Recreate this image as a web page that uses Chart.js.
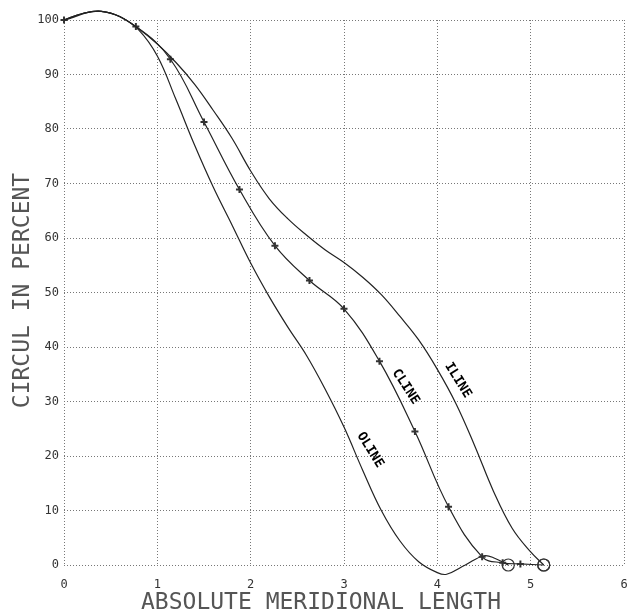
<!DOCTYPE html>
<html>
<head>
<meta charset="utf-8">
<script src="https://cdn.jsdelivr.net/npm/chart.js@4"></script>
<style>
  html, body { margin: 0; padding: 0; background: #fff; }
  #wrap { width: 632px; height: 613px; }
</style>
</head>
<body>
<div id="wrap"><canvas id="c" width="632" height="613"></canvas></div>
<script>
// Axis ticks
const xTicks = [0, 1, 2, 3, 4, 5, 6];
const yTicks = [0, 10, 20, 30, 40, 50, 60, 70, 80, 90, 100];

// Curve names
const seriesNames = ['ILINE', 'CLINE', 'OLINE'];

// ILINE: meridional length vs. circulation (%)
const ilineX = [0, 0.2, 0.4, 0.6, 0.8, 1.0, 1.2, 1.4, 1.6, 1.8, 2.0, 2.2, 2.4, 2.6, 2.8, 3.0, 3.2, 3.4, 3.6, 3.8, 4.0, 4.2, 4.4, 4.6, 4.8, 5.0, 5.14];
const ilineY = [100, 101.2, 101.6, 100.6, 98.4, 95.6, 92.2, 88.2, 83.4, 78.3, 72.3, 67.2, 63.5, 60.5, 57.8, 55.5, 52.8, 49.6, 45.6, 41.3, 35.9, 29.6, 21.9, 13.6, 6.8, 2.4, 0];

// CLINE: computed stations (marked points)
const clineX = [0, 0.4, 0.77, 1.14, 1.5, 1.88, 2.26, 2.63, 3.0, 3.38, 3.76, 4.12, 4.48, 4.7, 4.89, 5.14];
const clineY = [100, 101.6, 98.8, 92.8, 81.3, 68.9, 58.6, 52.2, 47.0, 37.4, 24.5, 10.7, 1.5, 0.4, 0.2, 0];

// OLINE
const olineX = [0, 0.2, 0.4, 0.6, 0.8, 1.0, 1.2, 1.4, 1.6, 1.8, 2.0, 2.2, 2.4, 2.6, 2.8, 3.0, 3.2, 3.4, 3.6, 3.8, 4.0, 4.1, 4.3, 4.5, 4.62, 4.76];
const olineY = [100, 101.2, 101.6, 100.6, 98.2, 93.4, 85.4, 77.0, 69.3, 62.4, 55.4, 49.2, 43.6, 38.4, 32.2, 25.3, 17.4, 10.0, 4.4, 0.6, -1.4, -1.7, 0.0, 1.7, 1.2, 0];

const toPoints = (xs, ys) => xs.map((x, i) => ({ x: x, y: ys[i] }));

const MONO = '"DejaVu Sans Mono", monospace';
const INK = '#222';

// Inline curve labels, anchored in data units, rotated along the curves
const curveTags = [
  { text: seriesNames[0], x: 4.22, y: 33.9, angle: 58 },
  { text: seriesNames[1], x: 3.66, y: 32.7, angle: 57 },
  { text: seriesNames[2], x: 3.28, y: 21.1, angle: 58 }
];

const annotate = {
  id: 'annotate',
  afterDatasetsDraw(chart) {
    const ctx = chart.ctx;
    const xs = chart.scales.x, ys = chart.scales.y;
    ctx.save();
    ctx.fillStyle = '#000';
    ctx.font = 'bold 13px ' + MONO;
    ctx.textAlign = 'center';
    ctx.textBaseline = 'middle';
    curveTags.forEach(t => {
      ctx.save();
      ctx.translate(xs.getPixelForValue(t.x), ys.getPixelForValue(t.y));
      ctx.rotate(t.angle * Math.PI / 180);
      ctx.fillText(t.text, 0, 0);
      ctx.restore();
    });
    ctx.restore();
  },
  afterDraw(chart) {
    const ctx = chart.ctx;
    const a = chart.chartArea;
    ctx.save();
    ctx.fillStyle = '#555';
    ctx.font = '23px ' + MONO;
    ctx.textAlign = 'center';
    ctx.textBaseline = 'middle';
    ctx.fillText('ABSOLUTE MERIDIONAL LENGTH', a.left + (a.right - a.left) * 0.459, 603);
    ctx.translate(23, (a.top + a.bottom) / 2 - 2);
    ctx.rotate(-Math.PI / 2);
    ctx.fillText('CIRCUL IN PERCENT', 0, 0);
    ctx.restore();
  }
};

const endCircle = (n, other) => ctx => (ctx.dataIndex === n - 1 ? 'circle' : other);

const datasets = [
  {
    label: seriesNames[0],
    data: toPoints(ilineX, ilineY),
    pointStyle: endCircle(ilineX.length, 'circle'),
    pointRadius: ctx => (ctx.dataIndex === ilineX.length - 1 ? 6 : 0),
  },
  {
    label: seriesNames[1],
    data: toPoints(clineX, clineY),
    pointStyle: endCircle(clineX.length, 'cross'),
    pointRadius: ctx => (ctx.dataIndex === clineX.length - 1 ? 6 : 3.5),
    pointBorderWidth: ctx => (ctx.dataIndex === clineX.length - 1 ? 1.2 : 2),
  },
  {
    label: seriesNames[2],
    data: toPoints(olineX, olineY),
    pointStyle: endCircle(olineX.length, 'circle'),
    pointRadius: ctx => (ctx.dataIndex === olineX.length - 1 ? 6 : 0),
  }
].map(d => Object.assign({
  showLine: true,
  borderColor: INK,
  borderWidth: 1.2,
  backgroundColor: 'rgba(0,0,0,0)',
  pointBorderColor: '#333',
  pointBorderWidth: 1.2,
  tension: 0.4,
  clip: false
}, d));

new Chart(document.getElementById('c'), {
  type: 'scatter',
  data: { datasets },
  plugins: [annotate],
  options: {
    responsive: false,
    animation: false,
    events: [],
    layout: { padding: { top: 20, right: 8, left: 0, bottom: 0 } },
    plugins: { legend: { display: false }, tooltip: { enabled: false } },
    scales: {
      x: {
        type: 'linear',
        min: 0, max: 6,
        afterBuildTicks: s => { s.ticks = xTicks.map(v => ({ value: v })); },
        afterFit: s => { s.height = 48; s.paddingLeft = 0; s.paddingRight = 0; },
        grid: { color: '#777', lineWidth: 1, drawTicks: false },
        border: { display: false, dash: [1, 2] },
        ticks: { color: '#333', font: { family: MONO, size: 12 }, padding: 13, maxRotation: 0 }
      },
      y: {
        type: 'linear',
        min: 0, max: 100,
        afterBuildTicks: s => { s.ticks = yTicks.map(v => ({ value: v })); },
        afterFit: s => { s.width = 64; s.paddingTop = 0; s.paddingBottom = 0; },
        grid: { color: '#777', lineWidth: 1, drawTicks: false },
        border: { display: false, dash: [1, 2] },
        ticks: { color: '#333', font: { family: MONO, size: 12 }, padding: 5 }
      }
    }
  }
});
</script>
</body>
</html>
